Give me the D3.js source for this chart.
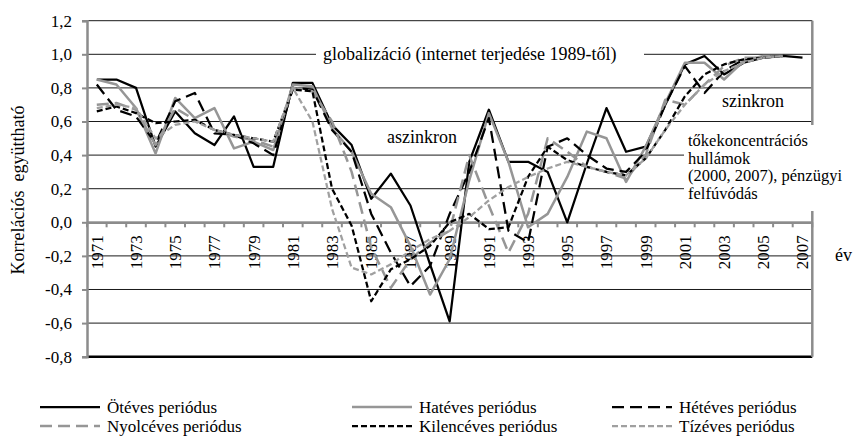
<!DOCTYPE html>
<html>
<head>
<meta charset="utf-8">
<script src="https://cdnjs.cloudflare.com/ajax/libs/d3/7.8.5/d3.min.js"></script>
<style>
  body { margin: 0; background: #fff; }
  text { font-family: "Liberation Serif", "Times New Roman", serif; fill: #000; }
</style>
</head>
<body>
<div id="chart"></div>
<script>
// years on the category axis
const years = [1971, 1972, 1973, 1974, 1975, 1976, 1977, 1978, 1979, 1980,
  1981, 1982, 1983, 1984, 1985, 1986, 1987, 1988, 1989, 1990,
  1991, 1992, 1993, 1994, 1995, 1996, 1997, 1998, 1999, 2000,
  2001, 2002, 2003, 2004, 2005, 2006, 2007];

const yTicks = [-0.8, -0.6, -0.4, -0.2, 0, 0.2, 0.4, 0.6, 0.8, 1.0, 1.2];

// correlation values, one per year (null = no value)
const otEves = [0.85, 0.85, 0.80, 0.45, 0.66, 0.53, 0.46, 0.63, 0.33, 0.33,
  0.83, 0.83, 0.58, 0.46, 0.14, 0.29, 0.10, -0.25, -0.59, 0.36,
  0.67, 0.36, 0.36, 0.30, 0.00, 0.35, 0.68, 0.42, 0.45, 0.70,
  0.94, 0.99, 0.88, 0.95, 0.98, 0.99, 0.98];
const hatEves = [0.85, 0.82, 0.68, 0.41, 0.74, 0.62, 0.68, 0.44, 0.48, 0.43,
  0.82, 0.81, 0.56, 0.42, 0.17, 0.09, -0.14, -0.43, -0.22, 0.25,
  0.65, 0.36, -0.03, 0.05, 0.27, 0.54, 0.50, 0.24, 0.45, 0.71,
  0.95, 0.95, 0.85, 0.96, 0.99, 0.99, null];
const hetEves = [0.82, 0.67, 0.63, 0.47, 0.72, 0.77, 0.53, 0.52, 0.47, 0.40,
  0.80, 0.79, 0.55, 0.42, 0.05, -0.18, -0.38, -0.26, 0.05, 0.30,
  0.62, -0.05, -0.12, 0.45, 0.50, 0.40, 0.32, 0.30, 0.42, 0.70,
  0.93, 0.77, 0.90, 0.97, 0.98, 0.99, null];
const nyolcEves = [0.70, 0.71, 0.67, 0.46, 0.68, 0.61, 0.55, 0.51, 0.49, 0.45,
  0.80, 0.78, 0.60, 0.30, -0.15, -0.39, -0.22, -0.12, -0.05, 0.40,
  0.10, -0.18, 0.05, 0.50, 0.42, 0.33, 0.30, 0.26, 0.40, 0.73,
  0.70, 0.82, 0.93, 0.98, 0.98, 0.99, null];
const kilencEves = [0.66, 0.69, 0.65, 0.59, 0.60, 0.61, 0.55, 0.52, 0.50, 0.48,
  0.79, 0.78, 0.20, -0.02, -0.47, -0.28, -0.22, -0.14, 0.00, 0.05,
  -0.04, -0.03, 0.27, 0.45, 0.37, 0.33, 0.30, 0.28, 0.38, 0.55,
  0.75, 0.88, 0.94, 0.97, 0.98, 0.99, null];
const tizEves = [0.68, 0.70, 0.68, 0.50, 0.58, 0.60, 0.55, 0.52, 0.50, 0.48,
  0.80, 0.60, 0.08, -0.27, -0.31, -0.25, -0.17, -0.10, -0.05, 0.03,
  0.13, 0.21, 0.27, 0.32, 0.36, 0.33, 0.30, 0.28, 0.38, 0.55,
  0.70, 0.82, 0.90, 0.95, 0.98, 0.99, null];

const seriesNames = ["Ötéves periódus", "Hatéves periódus", "Hétéves periódus",
  "Nyolcéves periódus", "Kilencéves periódus", "Tízéves periódus"];

function drawChart() {
  var margin = { top: 20.7, right: 53.7, bottom: 79.3, left: 87 };
  var fullW = 866, fullH = 436;
  var width = fullW - margin.left - margin.right;
  var height = fullH - margin.top - margin.bottom;

  var root = d3.select("#chart")
    .append("svg")
    .attr("width", fullW)
    .attr("height", fullH);

  root.append("rect").attr("width", fullW).attr("height", fullH).attr("fill", "#fff");

  var svg = root.append("g")
    .attr("transform", "translate(" + margin.left + "," + margin.top + ")");

  var x = d3.scaleBand().domain(years).range([0, width]);
  var y = d3.scaleLinear().domain([-0.8, 1.2]).range([height, 0]);

  var hu = d3.formatLocale({ decimal: ",", thousands: " ", grouping: [3], currency: ["", ""], minus: "-" });
  var fmt = hu.format(".1f");

  // horizontal grid lines
  svg.append("g")
    .selectAll("line")
    .data(yTicks)
    .join("line")
    .attr("x1", 0)
    .attr("x2", width)
    .attr("y1", d => y(d))
    .attr("y2", d => y(d))
    .attr("stroke", d => d === -0.8 ? "#000" : "#1a1a1a")
    .attr("stroke-width", d => d === -0.8 ? 2.5 : 1);

  // right border of the plot
  svg.append("line")
    .attr("x1", width).attr("x2", width)
    .attr("y1", 0).attr("y2", height)
    .attr("stroke", "#8c8c8c")
    .attr("stroke-width", 2.5);

  // y axis
  var yAxis = svg.append("g")
    .call(d3.axisLeft(y).tickValues(yTicks).tickSize(5).tickPadding(10).tickFormat(fmt));
  yAxis.select(".domain").attr("stroke", "#8c8c8c").attr("stroke-width", 2.5);
  yAxis.selectAll(".tick line").attr("stroke", "#8c8c8c").attr("stroke-width", 2);
  yAxis.selectAll("text").attr("font-size", "17px").attr("font-family", "Liberation Serif");

  // x axis sits on zero
  var xAxis = svg.append("g")
    .attr("transform", "translate(0," + y(0) + ")")
    .call(d3.axisBottom(x).tickSize(0).tickSizeOuter(0).tickFormat(d => d % 2 ? d : ""));
  xAxis.select(".domain").attr("stroke", "#8c8c8c").attr("stroke-width", 2.5);
  xAxis.selectAll("text")
    .attr("transform", "rotate(-90)")
    .attr("x", -13)
    .attr("y", 0)
    .attr("dy", "0.35em")
    .attr("text-anchor", "end")
    .attr("font-size", "17px")
    .attr("font-family", "Liberation Serif");

  // tick marks between categories
  svg.append("g")
    .selectAll("line")
    .data(years.concat([null]))
    .join("line")
    .attr("x1", (d, i) => i * x.step())
    .attr("x2", (d, i) => i * x.step())
    .attr("y1", y(0))
    .attr("y2", y(0) + 5)
    .attr("stroke", "#8c8c8c")
    .attr("stroke-width", 2);

  // series
  var series = [
    { name: seriesNames[0], values: otEves, color: "#000", dash: null, w: 2.25 },
    { name: seriesNames[1], values: hatEves, color: "#969696", dash: null, w: 2.5 },
    { name: seriesNames[2], values: hetEves, color: "#000", dash: "12,6", w: 2.25 },
    { name: seriesNames[3], values: nyolcEves, color: "#969696", dash: "12,6", w: 2.5 },
    { name: seriesNames[4], values: kilencEves, color: "#000", dash: "6,3", w: 2.25 },
    { name: seriesNames[5], values: tizEves, color: "#a0a0a0", dash: "6,3", w: 2.25 }
  ];

  var line = d3.line()
    .defined(d => d.v !== null)
    .x(d => x(d.year) + x.bandwidth() / 2)
    .y(d => y(d.v));

  series.forEach(s => {
    svg.append("path")
      .datum(years.map((yr, i) => ({ year: yr, v: s.values[i] })))
      .attr("fill", "none")
      .attr("stroke", s.color)
      .attr("stroke-width", s.w)
      .attr("stroke-dasharray", s.dash)
      .attr("stroke-linejoin", "round")
      .attr("d", line);
  });

  // annotation boxes
  root.append("rect").attr("x", 316).attr("y", 43).attr("width", 328).attr("height", 22).attr("fill", "#fff");
  root.append("text").attr("x", 323).attr("y", 60).attr("font-size", "18px")
    .text("globalizáció (internet terjedése 1989-től)");

  root.append("text").attr("x", 387).attr("y", 143).attr("font-size", "18px").text("aszinkron");
  root.append("text").attr("x", 722).attr("y", 107).attr("font-size", "18px").text("szinkron");

  root.append("rect").attr("x", 684).attr("y", 125).attr("width", 182).attr("height", 86).attr("fill", "#fff");
  var noteLines = ["tőkekoncentrációs", "hullámok", "(2000, 2007), pénzügyi", "felfúvódás"];
  var noteY = [146, 163.5, 181, 198.5];
  root.append("g")
    .selectAll("text")
    .data(noteLines)
    .join("text")
    .attr("x", 688)
    .attr("y", (d, i) => noteY[i])
    .attr("font-size", "16.5px")
    .text(d => d);

  // axis titles
  root.append("text")
    .attr("transform", "translate(24,190) rotate(-90)")
    .attr("text-anchor", "middle")
    .attr("font-size", "18px")
    .text("Korrelációs\u00a0 együttható");
  root.append("text").attr("x", 835).attr("y", 261).attr("font-size", "18px").text("év");

  // legend, three columns in two rows
  var legX = [40, 352, 612];
  var legY = [407, 426];
  var leg = root.append("g")
    .selectAll("g")
    .data(series)
    .join("g")
    .attr("transform", (d, i) => "translate(" + legX[i % 3] + "," + legY[Math.floor(i / 3)] + ")");
  leg.append("line")
    .attr("x1", 0).attr("x2", 60)
    .attr("stroke", d => d.color)
    .attr("stroke-width", d => d.w)
    .attr("stroke-dasharray", d => d.dash);
  leg.append("text")
    .attr("x", 67)
    .attr("dy", "0.35em")
    .attr("font-size", "17px")
    .text(d => d.name);
}

window.onload = drawChart;
</script>
</body>
</html>
